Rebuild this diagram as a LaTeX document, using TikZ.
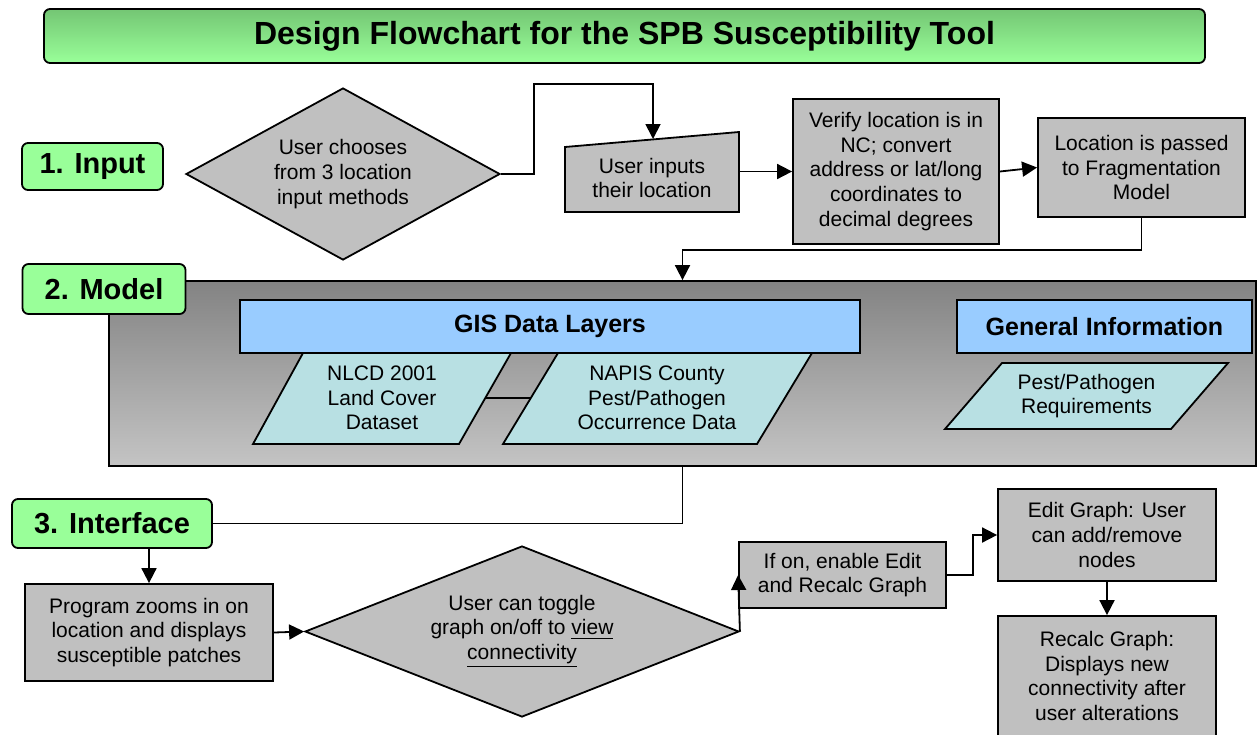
\documentclass[tikz,border=0pt]{standalone}
\usepackage{fontspec}
\setmainfont{Liberation Sans}
\usetikzlibrary{arrows.meta,positioning,calc,shapes.geometric}
\definecolor{boxgray}{HTML}{C0C0C0}
\definecolor{labelgreen}{HTML}{99FF99}
\definecolor{titlegreen}{HTML}{74C674}
\definecolor{layerblue}{HTML}{99CCFF}
\definecolor{datacyan}{HTML}{B8E0E3}
\definecolor{modeldark}{HTML}{838383}
\definecolor{modellight}{HTML}{C4C4C4}

\begin{document}
\begin{tikzpicture}[
  x=0.5pt, y=-0.5pt,
  every node/.style={font=\fontsize{10.5}{12.3}\selectfont, align=center, inner sep=0pt},
  proc/.style 2 args={draw, line width=0.9pt, fill=boxgray, minimum width=#1, minimum height=#2},
  stage/.style 2 args={draw, line width=0.9pt, fill=labelgreen, rounded corners=3pt, minimum width=#1, minimum height=#2, font=\fontsize{14.5}{16}\selectfont\bfseries},
  layer/.style 2 args={draw, line width=0.9pt, fill=layerblue, minimum width=#1, minimum height=#2, font=\fontsize{12.5}{14}\selectfont\bfseries},
  choice/.style={draw, line width=0.9pt, fill=boxgray, shape=diamond},
  datashape/.style={draw, line width=0.9pt, fill=datacyan},
  arrow/.style={-{Triangle[length=7.5pt,width=7.5pt]}, line width=0.9pt},
  link/.style={line width=0.9pt},
]
  \useasboundingbox (0,0) rectangle (1257,734);
  \clip (0,0) rectangle (1257,734);

  % Title
  \node[draw, line width=0.9pt, rounded corners=3pt, top color=titlegreen, bottom color=labelgreen,
    minimum width=580.5pt, minimum height=27pt, font=\fontsize{16}{18}\selectfont\bfseries] (title) at (624.5,36)
    {Design Flowchart for the SPB Susceptibility Tool};

  % 1. Input
  \node[stage={70.5pt}{23.5pt}] (inputlbl) at (92.5,166.5) {1. Input};
  \node[choice, minimum width=157pt, minimum height=86pt, aspect=1.83] (d1) at (343,174)
    {User chooses\\from 3 location\\input methods};

  \filldraw[datashape, fill=boxgray] (565,147) -- (739,132) -- (739,212) -- (565,212) -- cycle;
  \node[minimum width=87pt] (inp) at (652,178) {User inputs\\their location};
  \coordinate (inptop) at (653,139);

  \node[proc={103pt}{72.5pt}] (verify) at (896,171.5)
    {Verify location is in\\NC; convert\\address or lat/long\\coordinates to\\decimal degrees};
  \node[proc={103.5pt}{49.5pt}] (loc) at (1141.5,167.5)
    {Location is passed\\to Fragmentation\\Model};

  % 2. Model
  \node[draw, line width=0.9pt, top color=modeldark, bottom color=modellight,
    minimum width=573.5pt, minimum height=92.5pt] (model) at (682.5,373.5) {};
  \node[stage={81.5pt}{25pt}] (modellbl) at (104,289) {2. Model};

  \node[layer={310pt}{26.5pt}] (gis) at (550,326.5) {GIS Data Layers};
  \node[layer={147.5pt}{26.5pt}] (geninfo) at (1104.5,326.5) {General Information};

  \filldraw[datashape] (253,444) -- (303,353) -- (511,353) -- (459,444) -- cycle;
  \node (nlcd) at (382,398) {NLCD 2001\\Land Cover\\Dataset};
  \filldraw[datashape] (503,444) -- (558,353) -- (812,353) -- (757,444) -- cycle;
  \node (napis) at (657,398) {NAPIS County\\Pest/Pathogen\\Occurrence Data};
  \filldraw[datashape] (945,429) -- (1002,363) -- (1228,363) -- (1171,429) -- cycle;
  \node (pest) at (1086.5,396) {Pest/Pathogen\\Requirements};
  \coordinate (nlcdR) at (485,398);
  \coordinate (napisL) at (531,398);

  % 3. Interface
  \node[stage={100pt}{24.5pt}] (ifacelbl) at (112,523.5) {3. Interface};
  \node[proc={124pt}{48.5pt}] (prog) at (149,632.5)
    {Program zooms in on\\location and displays\\susceptible patches};
  \node[choice, minimum width=217pt, minimum height=85.5pt, aspect=2.5] (d2) at (522,631.5)
    {User can toggle\\graph on/off to \underline{view}\\\underline{connectivity}};
  \node[proc={103.5pt}{33pt}] (ifon) at (842.5,575) {If on, enable Edit\\and Recalc Graph};
  \node[proc={109pt}{46pt}] (edit) at (1107,535) {Edit Graph: User\\can add/remove\\nodes};
  \node[proc={109pt}{60pt}] (recalc) at (1107,676)
    {Recalc Graph:\\Displays new\\connectivity after\\user alterations};

  % Connectors
  \draw[arrow] (d1.east) -- ++(33,0) |- ($(inptop)+(0,-55)$) -- (inptop);
  \draw[arrow] (inp.east |- verify.west) -- (verify.west);
  \draw[arrow] (verify.east) -- (loc.west);
  \draw[arrow] (loc.south) -- ++(0,32) -| (model.north);
  \draw[link] (nlcdR) -- (napisL);
  \draw[link] (model.south) |- (ifacelbl.east);
  \draw[arrow] (prog.north |- ifacelbl.south) -- (prog.north);
  \draw[arrow] (prog.east) -- (d2.west);
  \draw[arrow] (d2.east) -- (ifon.west);
  \draw[arrow] (ifon.east) -- ++(26,0) |- (edit.west);
  \draw[arrow] (edit.south) -- (recalc.north);
\end{tikzpicture}
\end{document}
